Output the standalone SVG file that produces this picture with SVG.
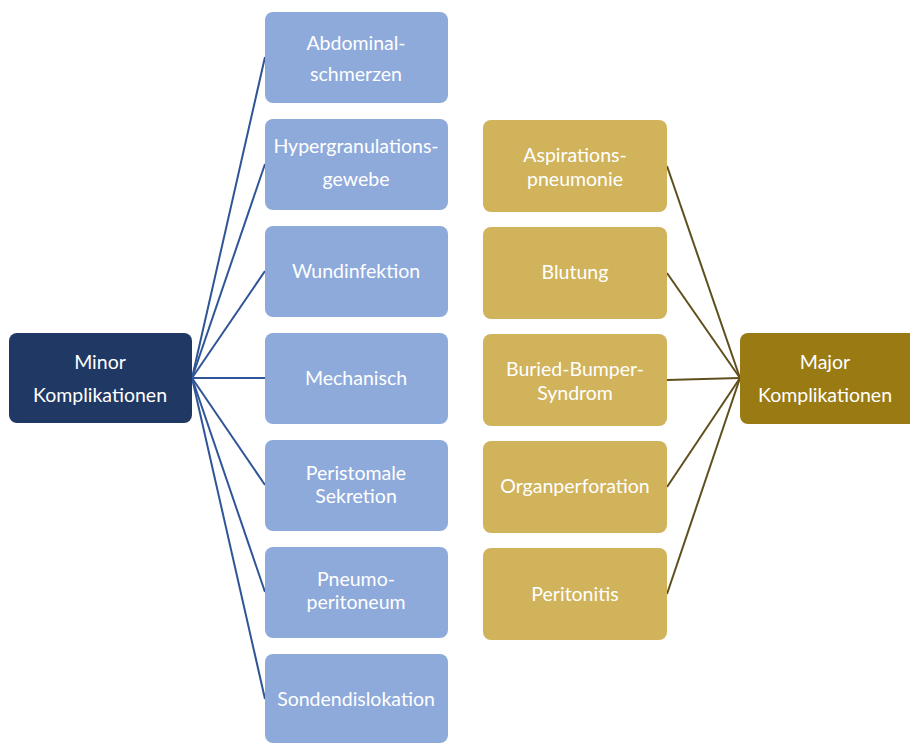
<svg xmlns="http://www.w3.org/2000/svg" width="910" height="743" viewBox="0 0 910 743">
  <style>
    .lbl { font-family: Lato, "Open Sans", "Liberation Sans", sans-serif; font-size: 19.5px; fill: #ffffff; text-anchor: middle; }
    .minor { fill: #1f3864; }
    .major { fill: #9a7a12; }
    .blue { fill: #8eaadb; }
    .gold { fill: #d0b35b; }
    .cb { stroke: #2f5597; stroke-width: 2; fill: none; }
    .cg { stroke: #5f4f1c; stroke-width: 2; fill: none; }
  </style>
  <rect width="910" height="743" fill="#ffffff"/>

  <g id="connectors">
    <!-- minor hub to each minor complication -->
    <line class="cb" x1="192" y1="378" x2="265" y2="57"/>
    <line class="cb" x1="192" y1="378" x2="265" y2="164"/>
    <line class="cb" x1="192" y1="378" x2="265" y2="271"/>
    <line class="cb" x1="192" y1="378" x2="265" y2="378"/>
    <line class="cb" x1="192" y1="378" x2="265" y2="485"/>
    <line class="cb" x1="192" y1="378" x2="265" y2="592"/>
    <line class="cb" x1="192" y1="378" x2="265" y2="699"/>
    <!-- each major complication to major hub -->
    <line class="cg" x1="667" y1="166" x2="740" y2="378"/>
    <line class="cg" x1="667" y1="273" x2="740" y2="378"/>
    <line class="cg" x1="667" y1="380" x2="740" y2="378"/>
    <line class="cg" x1="667" y1="487" x2="740" y2="378"/>
    <line class="cg" x1="667" y1="594" x2="740" y2="378"/>
  </g>

  <g id="minor-hub">
    <rect class="minor" x="9" y="333" width="183" height="90" rx="8"/>
    <text class="lbl" x="100" y="369">Minor</text>
    <text class="lbl" x="100" y="402">Komplikationen</text>
  </g>

  <g id="abdominalschmerzen">
    <rect class="blue" x="265" y="12" width="183" height="91" rx="8"/>
    <text class="lbl" x="356" y="50">Abdominal-</text>
    <text class="lbl" x="356" y="81">schmerzen</text>
  </g>
  <g id="hypergranulationsgewebe">
    <rect class="blue" x="265" y="119" width="183" height="91" rx="8"/>
    <text class="lbl" x="356" y="153">Hypergranulations-</text>
    <text class="lbl" x="356" y="186">gewebe</text>
  </g>
  <g id="wundinfektion">
    <rect class="blue" x="265" y="226" width="183" height="91" rx="8"/>
    <text class="lbl" x="356" y="278">Wundinfektion</text>
  </g>
  <g id="mechanisch">
    <rect class="blue" x="265" y="333" width="183" height="91" rx="8"/>
    <text class="lbl" x="356" y="385">Mechanisch</text>
  </g>
  <g id="peristomale-sekretion">
    <rect class="blue" x="265" y="440" width="183" height="91" rx="8"/>
    <text class="lbl" x="356" y="480">Peristomale</text>
    <text class="lbl" x="356" y="503">Sekretion</text>
  </g>
  <g id="pneumoperitoneum">
    <rect class="blue" x="265" y="547" width="183" height="91" rx="8"/>
    <text class="lbl" x="356" y="586">Pneumo-</text>
    <text class="lbl" x="356" y="609">peritoneum</text>
  </g>
  <g id="sondendislokation">
    <rect class="blue" x="265" y="654" width="183" height="89" rx="8"/>
    <text class="lbl" x="356" y="706">Sondendislokation</text>
  </g>

  <g id="aspirationspneumonie">
    <rect class="gold" x="483" y="120" width="184" height="92" rx="8"/>
    <text class="lbl" x="575" y="162">Aspirations-</text>
    <text class="lbl" x="575" y="186">pneumonie</text>
  </g>
  <g id="blutung">
    <rect class="gold" x="483" y="227" width="184" height="92" rx="8"/>
    <text class="lbl" x="575" y="279">Blutung</text>
  </g>
  <g id="buried-bumper-syndrom">
    <rect class="gold" x="483" y="334" width="184" height="92" rx="8"/>
    <text class="lbl" x="575" y="376">Buried-Bumper-</text>
    <text class="lbl" x="575" y="400">Syndrom</text>
  </g>
  <g id="organperforation">
    <rect class="gold" x="483" y="441" width="184" height="92" rx="8"/>
    <text class="lbl" x="575" y="493">Organperforation</text>
  </g>
  <g id="peritonitis">
    <rect class="gold" x="483" y="548" width="184" height="92" rx="8"/>
    <text class="lbl" x="575" y="601">Peritonitis</text>
  </g>

  <g id="major-hub">
    <rect class="major" x="740" y="333" width="180" height="91" rx="8"/>
    <text class="lbl" x="825" y="369">Major</text>
    <text class="lbl" x="825" y="402">Komplikationen</text>
  </g>
</svg>
